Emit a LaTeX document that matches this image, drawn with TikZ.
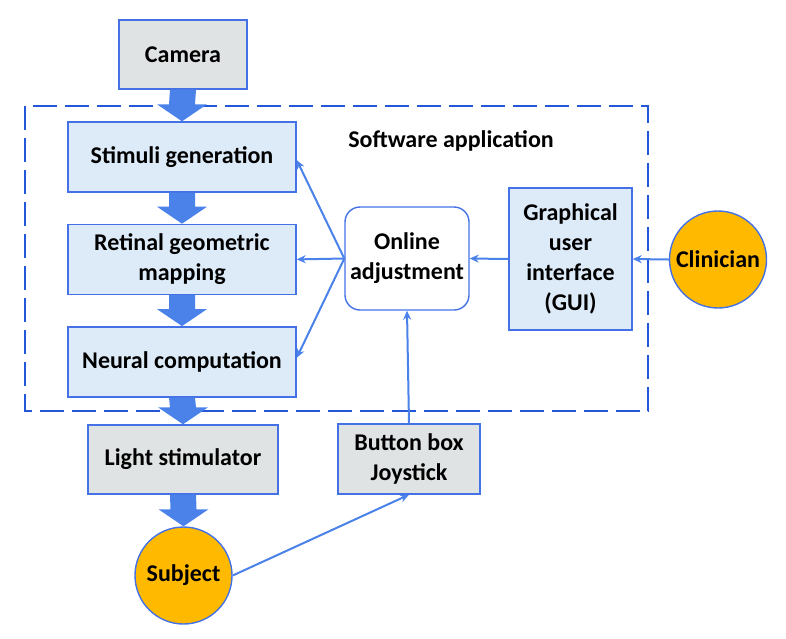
\documentclass[tikz,border=0pt]{standalone}
\usepackage{fontspec}
\setmainfont{Carlito}
\usetikzlibrary{positioning,arrows.meta,calc}
\definecolor{boxblue}{HTML}{DDEBF8}
\definecolor{edgeblue}{HTML}{4472E6}
\definecolor{lineblue}{HTML}{4A82EA}
\definecolor{dashblue}{HTML}{2456D8}
\definecolor{boxgray}{HTML}{DFE3E3}
\definecolor{gold}{HTML}{FFBA00}

\newcommand{\fatarrow}[2]{%
  \fill[lineblue] ($(#1)+(-13,0)$) -- ($(#1)+(13,0)$) -- ($(#2)+(13,-17)$)
    -- ($(#2)+(25,-17)$) -- (#2) -- ($(#2)+(-25,-17)$) -- ($(#2)+(-13,-17)$) -- cycle;}

\begin{document}
\begin{tikzpicture}[x=1pt,y=-1pt,
blk/.style={draw=edgeblue,line width=1.4pt,fill=boxblue,inner sep=2pt,
    minimum width=228pt,minimum height=70pt,align=center,
    font=\fontsize{24}{30}\selectfont\bfseries},
hw/.style={blk,fill=boxgray},
person/.style={circle,draw=edgeblue,line width=1.4pt,fill=gold,inner sep=0pt,
    minimum size=97pt,font=\fontsize{24}{30}\selectfont\bfseries},
link/.style={draw=lineblue,line width=2pt,-{Stealth[length=9pt,width=8pt]}}]
\useasboundingbox (0,0) rectangle (786,638);

\draw[dashblue,line width=2.6pt,dash pattern=on 24pt off 8pt] (25,106) rectangle (648,411);
\node (soft) at (451,141) [font=\fontsize{24}{30}\selectfont\bfseries] {Software application};

\node (stim) [blk] at (182,157) {Stimuli generation};
\node (retina) [blk,below=31pt of stim] {Retinal geometric\\mapping};
\node (neural) [blk,below=31pt of retina] {Neural computation};

\node (camera) [hw,minimum width=128pt,minimum height=69pt] at (183,54.5) {Camera};
\node (light) [hw,minimum width=190pt,minimum height=69pt] at (183,459.5) {Light stimulator};
\node (button) [hw,minimum width=142pt] at (409,459) {Button box\\Joystick};
\node (subject) [person] at (183.5,575.5) {Subject};

\node (online) [blk,fill=white,rounded corners=15pt,
    minimum width=124pt,minimum height=103pt] at (407,258.5) {Online\\adjustment};
\node (gui) [blk,minimum width=123pt,minimum height=142pt] at (570.5,259)
    {Graphical\\user\\interface\\(GUI)};
\node (clinician) [person] at (718,259.5) {Clinician};

% main flow
\fatarrow{camera.south}{stim.north}
\fatarrow{stim.south}{retina.north}
\fatarrow{retina.south}{neural.north}
\fatarrow{neural.south}{light.north}
\fatarrow{light.south}{subject.north}

% feedback
\draw[link] (online.west) -- ([yshift=-3pt]stim.east);
\draw[link] (online.west) -- (retina.east);
\draw[link] (online.west) -- ([yshift=4pt]neural.east);
\draw[link] (gui.west) -- (online.east);
\draw[link] (clinician.west) -- (gui.east);
\draw[link] (button.north) -- (online.south);
\draw[link] (subject.east) -- (button.south);
\end{tikzpicture}
\end{document}
